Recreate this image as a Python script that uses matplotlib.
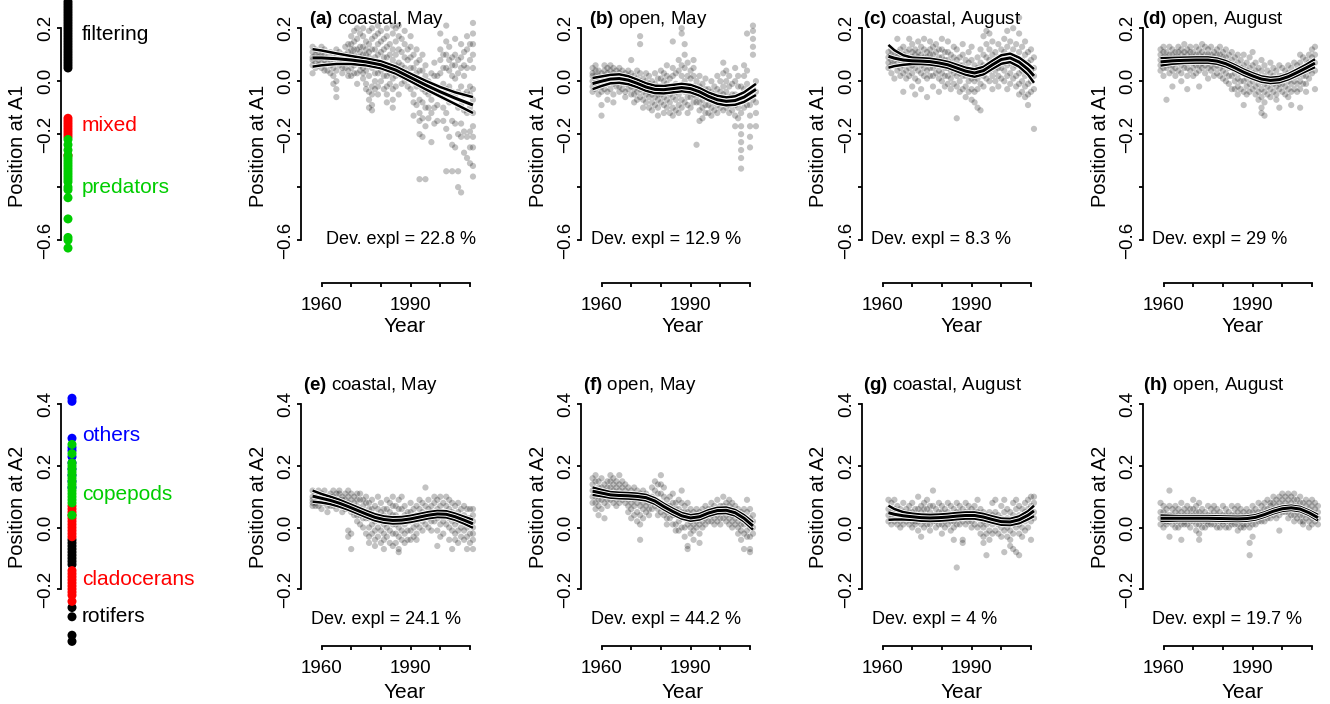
import numpy as np
import matplotlib.pyplot as plt
import matplotlib.patheffects as pe

plt.rcParams['font.family'] = ['Liberation Sans', 'DejaVu Sans']
plt.rcParams['mathtext.fontset'] = 'custom'
plt.rcParams['mathtext.bf'] = 'Liberation Sans:bold'
plt.rcParams['mathtext.rm'] = 'Liberation Sans'

# ---------------- data ----------------
# left strips: group positions on each axis
a1_filtering = [0.05, 0.06, 0.07, 0.08, 0.09, 0.10, 0.11, 0.12, 0.13, 0.14, 0.15, 0.16, 0.17,
                0.18, 0.19, 0.20, 0.21, 0.22, 0.23, 0.24, 0.25, 0.26, 0.27, 0.28, 0.29, 0.30]
a1_mixed = [-0.14, -0.15, -0.16, -0.17, -0.18, -0.19, -0.20, -0.21, -0.28]
a1_predators = [-0.22, -0.24, -0.26, -0.28, -0.29, -0.30, -0.31, -0.32, -0.33, -0.34, -0.35,
                -0.36, -0.37, -0.38, -0.40, -0.41, -0.44, -0.52, -0.59, -0.60, -0.63]
a2_others = [0.42, 0.41, 0.29, 0.26, 0.25, 0.23, 0.21, 0.19, 0.17, 0.15, 0.13]
a2_copepods = [0.27, 0.24, 0.21, 0.20, 0.19, 0.18, 0.17, 0.16, 0.15, 0.14, 0.13, 0.12, 0.11,
               0.10, 0.09, 0.08, 0.04]
a2_cladocerans = [0.07, 0.06, 0.05, 0.04, 0.03, 0.02, 0.01, 0.0, -0.01, -0.02, -0.03, -0.14,
                  -0.15, -0.16, -0.17, -0.18, -0.19, -0.20, -0.21, -0.22, -0.24]
a2_rotifers = [-0.04, -0.05, -0.06, -0.07, -0.08, -0.09, -0.10, -0.11, -0.12, -0.26, -0.29,
               -0.35, -0.37]

# station scores, one row per year: [year, values...]
pts_a = [
    [1957, .13, .11, .09, .08, .06, .03], [1958, .12, .10, .09, .07, .05], [1959, .11, .09, .08, .06],
    [1960, .13, .10, .09, .07, .05], [1961, .12, .10, .08, .06, .04], [1962, .09, .07, .04],
    [1963, .11, .08, .06, .03], [1964, .10, .08, .05, .02, -.01], [1965, .12, .09, .04, .00, -.03, -.06],
    [1966, .11, .08, .06], [1967, .10, .07, .05, .03], [1968, .13, .10, .08, .05],
    [1969, .14, .11, .09, .07, .04, .02], [1970, .17, .14, .12, .10, .07, .05, .02],
    [1971, .19, .15, .12, .10, .08, .06, .03], [1972, .20, .16, .12, .09, .07, .03, -.01],
    [1973, .18, .13, .11, .09, .06, .04], [1974, .20, .17, .13, .10, .08, .05, .03, .01],
    [1975, .15, .12, .10, .07, .04, -.01, -.03], [1976, .19, .14, .11, .09, .06, .02, -.04, -.07, -.10],
    [1977, .20, .16, .12, .08, .05, -.02, -.05, -.09, -.11], [1978, .17, .12, .09, .06, .03, .00, -.03],
    [1979, .21, .18, .14, .10, .07, .03, -.02, -.05], [1980, .19, .15, .11, .07, .04, .00],
    [1981, .16, .12, .09, .05, .02, -.03], [1982, .20, .17, .13, .09, .06, .02, -.02, -.05, -.08],
    [1983, .14, .10, .06, .03, -.01], [1984, .21, .18, .12, .08, .04, .01, -.03, -.07, -.10],
    [1985, .20, .15, .10, .06, .02, -.02], [1986, .21, .17, .12, .07, .03, -.05],
    [1987, .16, .11, .06, .02, -.01], [1988, .19, .14, .09, .05, .00],
    [1989, .12, .08, .03, -.02], [1990, .17, .13, .09, .05, .01, -.03],
    [1991, .10, .05, .00, -.05, -.08, -.13], [1992, .12, .07, .03, -.02, -.09],
    [1993, .08, .04, -.01, -.07, -.12, -.15, -.20, -.37], [1994, .10, .04, -.03, -.08, -.14, -.21],
    [1995, .06, .02, -.04, -.10, -.17, -.37], [1996, .00, -.05, -.10, -.14],
    [1997, .03, -.02, -.07, -.12, -.23], [1998, .07, .02, -.03, -.10, -.16],
    [1999, .02, -.04, -.09, -.15], [2000, .18, .12, .08, .03, -.05],
    [2001, .10, .05, -.01, -.06, -.10, -.15], [2002, .21, .15, .10, .05, -.03, -.12, -.18, -.34],
    [2003, .13, .08, .04, -.02, -.08, -.21], [2004, .09, .06, .02, -.04, -.15, -.24, -.34],
    [2005, .16, .10, .06, .01, -.06, -.16, -.25], [2006, .08, .03, -.04, -.10, -.20, -.34, -.40],
    [2007, .14, .09, .05, -.02, -.09, -.16, -.21, -.42], [2008, .11, .06, .02, -.05, -.11, -.19, -.27],
    [2009, .17, .12, .05, -.04, -.12, -.21, -.29], [2010, .14, .08, -.02, -.05, -.10, -.19, -.25, -.31],
    [2011, .22, .18, .14, .10, .05, -.03, -.07, -.12, -.17, -.21, -.25, -.32, -.36],
]
pts_b = [
    [1957, .05, .03, .02, .00, -.02, -.04], [1958, .06, .04, .02, .01, -.01, -.03],
    [1959, .04, .02, .00, -.02, -.05], [1960, .03, .01, -.02, -.04, -.09, -.13],
    [1961, .06, .04, .02, .00, -.03], [1962, .05, .03, .01, -.01, -.04, -.07],
    [1963, .06, .04, .02, .00, -.03], [1964, .05, .03, .02, -.01, -.05, -.08],
    [1965, .04, .02, .00, -.02], [1966, .05, .03, .01, -.02, -.04], [1967, .04, .02, .00, -.03],
    [1968, .03, .01, -.01, -.04, -.06], [1969, .04, .02, -.01, -.03], [1970, .08, .03, .00, -.02, -.05],
    [1971, .02, .00, -.03, -.05, -.08], [1972, .04, .01, -.02, -.04, -.07],
    [1973, .17, .14, .03, .00, -.03, -.06], [1974, .01, -.02, -.04, -.07, -.10],
    [1975, .03, .00, -.03, -.05, -.08], [1976, .02, -.01, -.04, -.06, -.10],
    [1977, .00, -.03, -.05, -.08, -.11], [1978, .03, -.01, -.04, -.06, -.09],
    [1979, .01, -.02, -.05, -.07, -.10, -.13], [1980, .04, .01, -.02, -.05, -.08],
    [1981, .03, .00, -.03, -.06, -.09, -.12], [1982, .06, .02, -.01, -.04, -.07, -.10],
    [1983, .01, -.02, -.05, -.08, -.12], [1984, .15, .05, .02, -.03, -.06, -.10, -.13],
    [1985, .03, -.01, -.04, -.07, -.11], [1986, .08, .04, -.02, -.05, -.09, -.12],
    [1987, .20, .18, .06, .02, -.03, -.07, -.10], [1988, .14, .10, .05, .00, -.04, -.08],
    [1989, .07, .02, -.02, -.06, -.09, -.12], [1990, .04, .01, -.03, -.06, -.10],
    [1991, .08, .05, .02, -.02, -.05, -.08], [1992, .00, -.03, -.06, -.08, -.24],
    [1993, .02, -.02, -.05, -.08, -.11, -.15], [1994, -.01, -.04, -.07, -.10, -.14],
    [1995, .01, -.03, -.06, -.09, -.12], [1996, -.03, -.06, -.09, -.12],
    [1997, .00, -.04, -.07, -.10, -.13], [1998, -.02, -.05, -.08, -.11],
    [1999, .02, -.03, -.06, -.09, -.12], [2000, .00, -.04, -.07, -.10],
    [2001, .07, .03, -.02, -.05, -.08, -.11], [2002, .04, .00, -.04, -.07, -.10],
    [2003, .02, -.02, -.06, -.09, -.12], [2004, -.01, -.05, -.08, -.11],
    [2005, .05, .00, -.05, -.09, -.13, -.17], [2006, .02, -.02, -.06, -.10, -.14],
    [2007, -.02, -.06, -.12, -.17, -.20, -.23, -.26, -.29, -.33], [2008, .06, .02, -.03, -.07, -.10],
    [2009, .18, .04, -.01, -.05, -.09], [2010, -.05, -.09, -.13, -.17, -.21, -.25],
    [2011, .21, .19, .16, .13, .10, -.03, -.07], [2012, .00, -.04, -.08, -.12, -.17],
]
pts_c = [
    [1962, .11, .09, .07, .05], [1963, .12, .10, .08, .06, .03], [1964, .10, .08, .06, .01],
    [1965, .16, .11, .09, .07, .04], [1966, .12, .10, .08, .05, .02],
    [1967, .13, .10, .08, .06, .03, -.04], [1968, .11, .09, .07, .04, .01],
    [1969, .16, .12, .09, .07, .05, .02], [1970, .14, .11, .09, .06, .03, -.02],
    [1971, .12, .10, .08, .05, .01, -.05], [1972, .15, .11, .09, .07, .04, .00],
    [1973, .13, .10, .08, .06, .03, -.03], [1974, .16, .12, .09, .07, .05, .02],
    [1975, .11, .09, .07, .04, .01, -.06], [1976, .15, .12, .10, .07, .05, .02],
    [1977, .13, .10, .08, .05, .02, -.02], [1978, .14, .11, .08, .06, .03],
    [1979, .12, .09, .07, .04, .01, -.04], [1980, .16, .12, .09, .06, .03, .00],
    [1981, .11, .08, .05, .02, -.02], [1982, .15, .11, .08, .05, .02, -.01],
    [1983, .10, .07, .04, .01, -.03], [1984, .13, .09, .06, .03, -.01],
    [1985, .12, .08, .05, .02, -.02, -.14], [1986, .09, .06, .03, .00, -.04],
    [1987, .14, .10, .06, .02, -.03], [1988, .08, .05, .02, -.02, -.06],
    [1989, .11, .07, .03, .00, -.04], [1990, .13, .08, .04, .01, -.03, -.07],
    [1991, .06, .03, .00, -.04, -.08], [1992, .09, .05, .01, -.03, -.10],
    [1993, .12, .07, .03, -.01, -.11], [1994, .17, .10, .06, .02, -.02],
    [1995, .19, .14, .09, .05, .01], [1996, .18, .12, .08, .04, .00],
    [1997, .15, .10, .06, .02, -.03], [1998, .11, .07, .04, .00],
    [1999, .14, .09, .05, .02, -.02], [2000, .12, .08, .05, .01],
    [2001, .16, .11, .07, .04, .00], [2002, .19, .13, .09, .06, .02, -.03],
    [2003, .15, .10, .07, .03, -.01], [2004, .20, .12, .08, .05, .01],
    [2005, .14, .09, .06, .02, -.02], [2006, .24, .18, .11, .07, .03, -.01, -.05],
    [2007, .13, .08, .04, .00, -.04], [2008, .15, .10, .06, .02, -.02, -.06],
    [2009, .11, .07, .03, -.01, -.05, -.09], [2010, .12, .08, .04, .00, -.04],
    [2011, .09, .05, .02, -.03, -.18],
]
pts_d = [
    [1959, .12, .10, .08, .06, .04], [1960, .13, .11, .09, .07, .05, .02],
    [1961, .11, .09, .07, .05, -.07], [1962, .13, .10, .08, .06, .03],
    [1963, .12, .10, .08, .06, .04, -.02], [1964, .11, .09, .07, .05, .02],
    [1965, .13, .11, .09, .07, .04], [1966, .12, .10, .08, .06, .03, .00],
    [1967, .14, .11, .09, .07, .05], [1968, .12, .10, .08, .05, .02, -.03],
    [1969, .13, .11, .09, .07, .04], [1970, .11, .09, .07, .05, .02],
    [1971, .13, .10, .08, .06, .03], [1972, .12, .10, .08, .06, .04, -.02],
    [1973, .14, .11, .09, .07, .05], [1974, .13, .10, .08, .06, .03],
    [1975, .12, .10, .08, .05, .01], [1976, .13, .10, .08, .06, .04],
    [1977, .11, .09, .07, .05, .02], [1978, .12, .10, .08, .06, .03],
    [1979, .13, .10, .07, .05, .02], [1980, .11, .09, .06, .04, .01],
    [1981, .12, .09, .06, .03, .00], [1982, .10, .07, .05, .02, -.01],
    [1983, .11, .08, .05, .02, -.03], [1984, .09, .06, .03, .00, -.03],
    [1985, .10, .07, .04, .01, -.02, -.05], [1986, .08, .05, .03, .00, -.03],
    [1987, .10, .06, .03, .00, -.04, -.09], [1988, .07, .04, .01, -.02, -.05],
    [1989, .09, .05, .02, -.01, -.04], [1990, .11, .06, .03, .00, -.03],
    [1991, .07, .04, .01, -.02, -.05], [1992, .05, .02, -.01, -.04, -.07],
    [1993, .08, .04, .01, -.03, -.06, -.10, -.12], [1994, .06, .02, -.01, -.04, -.08, -.13],
    [1995, .04, .01, -.02, -.05], [1996, .07, .03, .00, -.03, -.06],
    [1997, .05, .02, -.01, -.04], [1998, .04, .01, -.02, -.05, -.07],
    [1999, .06, .02, -.01, -.03, -.10], [2000, .05, .02, -.01, -.04],
    [2001, .04, .01, -.02, -.05], [2002, .06, .03, .00, -.03, -.06],
    [2003, .05, .02, -.01, -.04, -.09], [2004, .07, .03, .00, -.03],
    [2005, .06, .02, -.01, -.04], [2006, .10, .07, .03, .00, -.03, -.10],
    [2007, .09, .05, .02, -.01], [2008, .08, .05, .02, -.01, -.04],
    [2009, .10, .07, .04, .01], [2010, .12, .09, .06, .03],
    [2011, .13, .10, .07, .04, -.03],
]
pts_e = [
    [1957, .12, .10, .09, .08, .07], [1958, .11, .10, .08, .07], [1959, .12, .10, .09, .07],
    [1960, .11, .09, .08, .06], [1961, .12, .10, .09, .08], [1962, .10, .09, .07, .05],
    [1963, .11, .10, .08, .07], [1964, .12, .10, .09, .07], [1965, .11, .09, .08, .06],
    [1966, .12, .11, .09, .07], [1967, .10, .09, .07, .05], [1968, .11, .09, .07, .06],
    [1969, .12, .10, .08, .06, -.01, -.03], [1970, .11, .09, .07, .05, -.02, -.07],
    [1971, .10, .08, .06, .04], [1972, .11, .09, .07, .04, .02], [1973, .11, .09, .06, .04, .01],
    [1974, .09, .07, .05, .03, .00], [1975, .10, .08, .05, .03, -.02],
    [1976, .08, .06, .03, .00, -.03, -.05], [1977, .09, .06, .04, .01, -.02],
    [1978, .07, .04, .02, -.01, -.04, -.06], [1979, .10, .06, .03, .00, -.03],
    [1980, .08, .05, .02, -.01, -.05], [1981, .06, .04, .01, -.02, -.04, -.07],
    [1982, .09, .06, .03, .00, -.03], [1983, .08, .05, .02, -.01, -.05],
    [1984, .10, .07, .04, .01, -.02, -.06], [1985, .07, .04, .01, -.02, -.05],
    [1986, .09, .06, .03, .00, -.03, -.07, -.08], [1987, .10, .06, .02, -.01, -.04],
    [1988, .07, .04, .01, -.02, -.05], [1989, .05, .02, -.01, -.04],
    [1990, .08, .05, .02, -.01, -.04], [1991, .06, .03, .00, -.03],
    [1992, .07, .04, .01, -.02, -.04], [1993, .09, .06, .03, .00], [1994, .08, .05, .02, -.01],
    [1995, .13, .07, .04, .01], [1996, .09, .06, .03, .00], [1997, .07, .05, .02, -.01],
    [1998, .10, .08, .05, .02], [1999, .09, .06, .03, -.01, -.06],
    [2000, .10, .07, .04, .01, -.03], [2001, .08, .05, .02, -.02], [2002, .10, .07, .04, .01],
    [2003, .09, .06, .03, .00, -.04], [2004, .08, .05, .02, -.01, -.07],
    [2005, .07, .04, .01, -.02, -.04], [2006, .08, .05, .02, -.01, -.05],
    [2007, .06, .03, .00, -.03], [2008, .07, .04, .02, -.01, -.04],
    [2009, .06, .03, .00, -.03, -.07], [2010, .06, .03, .01, -.02, -.05],
    [2011, .06, .04, .02, .00, -.02, -.04, -.07],
]
pts_f = [
    [1957, .16, .14, .12, .10, .08], [1958, .17, .15, .12, .10, .08, .06],
    [1959, .15, .13, .11, .09, .07, .04], [1960, .16, .13, .11, .09, .06],
    [1961, .14, .12, .10, .08, .03], [1962, .15, .13, .11, .09, .07],
    [1963, .17, .15, .13, .11, .09], [1964, .16, .14, .12, .10, .08],
    [1965, .15, .13, .11, .09, .07], [1966, .17, .14, .12, .10, .08],
    [1967, .15, .13, .11, .09], [1968, .14, .12, .10, .08], [1969, .13, .11, .09, .07, .05],
    [1970, .12, .10, .08, .06, .03], [1971, .13, .11, .09, .07, .04],
    [1972, .12, .10, .08, .05, .02], [1973, .11, .09, .07, .04, .01, -.04],
    [1974, .12, .10, .08, .06, .03], [1975, .11, .09, .07, .05], [1976, .10, .08, .06, .04],
    [1977, .13, .10, .08, .06], [1978, .15, .12, .09, .07], [1979, .14, .11, .08, .06, .04],
    [1980, .17, .14, .11, .08, .05], [1981, .13, .10, .07, .04], [1982, .09, .07, .05, .03, .01],
    [1983, .10, .07, .05, .03], [1984, .11, .08, .06, .04, .01], [1985, .08, .06, .04, .01, -.01],
    [1986, .09, .06, .04, .02, -.01], [1987, .12, .08, .05, .03, .00],
    [1988, .07, .05, .03, .00, -.03], [1989, .08, .05, .03, .01, -.06, -.07],
    [1990, .06, .04, .02, .00, -.02], [1991, .05, .03, .01, -.01, -.04],
    [1992, .06, .04, .02, .00], [1993, .05, .03, .01, -.02, -.05], [1994, .06, .04, .02, .00],
    [1995, .07, .05, .03, .01], [1996, .06, .04, .02], [1997, .08, .06, .04, .02],
    [1998, .07, .05, .03, .01], [1999, .09, .06, .04, .02], [2000, .07, .05, .03, .01],
    [2001, .10, .07, .05, .03], [2002, .08, .06, .04, .02], [2003, .09, .07, .05, .03, .01],
    [2004, .08, .06, .04, .02, .00], [2005, .07, .05, .03, .01],
    [2006, .06, .04, .02, .00, -.02], [2007, .05, .03, .01, -.01, -.04],
    [2008, .06, .03, .01, -.02, -.07], [2009, .09, .05, .02, -.01, -.03],
    [2010, .06, .03, .00, -.03, -.07, -.08], [2011, .04, .02, .00, -.02],
]
pts_g = [
    [1962, .09, .06, .04, .02], [1963, .08, .05, .03, .01], [1964, .09, .06, .04, .02],
    [1965, .07, .05, .03, .01], [1966, .06, .04, .02, .00], [1967, .08, .05, .03, .01],
    [1968, .06, .04, .02], [1969, .07, .05, .03, .01], [1970, .08, .05, .03, .02, .00],
    [1971, .06, .04, .02, .01], [1972, .10, .06, .04, .02, -.01], [1973, .07, .05, .03, .01, -.03],
    [1974, .08, .06, .04, .02, .00], [1975, .09, .06, .03, .01], [1976, .07, .05, .03, .01, -.01],
    [1977, .12, .07, .04, .02], [1978, .06, .04, .02, .00], [1979, .08, .05, .03, .01],
    [1980, .07, .05, .03, .01, -.02], [1981, .06, .04, .02, .00], [1982, .08, .05, .03, .01],
    [1983, .07, .04, .02, -.01], [1984, .06, .04, .02, .00, -.04], [1985, .08, .05, .03, .01, -.13],
    [1986, .07, .05, .03, .01], [1987, .06, .04, .02, -.04, -.05], [1988, .08, .05, .03, .01],
    [1989, .07, .05, .03, .02], [1990, .06, .04, .02, .00], [1991, .07, .05, .03, .01],
    [1992, .09, .05, .03, .00], [1993, .06, .03, .01, -.02], [1994, .05, .02, .00, -.03, -.05],
    [1995, .04, .01, -.02, -.09], [1996, .05, .02, -.01, -.04], [1997, .08, .04, .01, -.02],
    [1998, .09, .05, .02, -.01], [1999, .04, .01, -.02], [2000, .07, .03, .00, -.03],
    [2001, .09, .05, .02, -.01, -.08], [2002, .06, .03, .00, -.03],
    [2003, .05, .02, -.01, -.04, -.06], [2004, .08, .04, .01, -.02, -.07],
    [2005, .09, .06, .03, .00, -.08], [2006, .07, .04, .01, -.02, -.09],
    [2007, .06, .03, .00, -.03], [2008, .08, .05, .02, -.01], [2009, .09, .06, .03, .00],
    [2010, .10, .07, .04, .02, -.04], [2011, .10, .08, .05, .03],
]
pts_h = [
    [1959, .08, .05, .03, .01], [1960, .07, .05, .03, .02, .00], [1961, .06, .04, .02, .01],
    [1962, .12, .07, .04, .02, -.03], [1963, .06, .04, .03, .01], [1964, .07, .05, .03, .02, .00],
    [1965, .06, .04, .02, .00], [1966, .08, .05, .03, .01, -.04], [1967, .06, .04, .02, .01],
    [1968, .07, .05, .03, .01], [1969, .06, .04, .02, .00], [1970, .09, .06, .04, .02],
    [1971, .07, .05, .03, .01, -.01], [1972, .08, .05, .03, .01, -.02, -.04],
    [1973, .06, .04, .02, .00], [1974, .05, .03, .02, .00], [1975, .07, .04, .02, .01],
    [1976, .06, .04, .03, .01], [1977, .07, .05, .03, .01], [1978, .06, .04, .02, .00],
    [1979, .05, .03, .02, .00], [1980, .07, .04, .02, .01], [1981, .06, .04, .02, .00],
    [1982, .05, .03, .02, .00], [1983, .07, .04, .02, .01], [1984, .06, .04, .03, .01],
    [1985, .07, .05, .03, .01, -.01], [1986, .06, .04, .02, .00], [1987, .05, .03, .01, .00],
    [1988, .06, .04, .03, .01], [1989, .05, .03, .02, .00, -.05, -.09],
    [1990, .07, .05, .03, .01, -.03], [1991, .06, .04, .03, .01], [1992, .08, .05, .03, .02],
    [1993, .07, .05, .04, .02], [1994, .08, .06, .04, .02], [1995, .09, .06, .04, .03],
    [1996, .08, .07, .05, .03], [1997, .10, .08, .06, .04], [1998, .09, .07, .05, .03],
    [1999, .10, .08, .06, .04, -.01], [2000, .11, .09, .07, .05], [2001, .10, .08, .06, .05],
    [2002, .11, .09, .07, .05, .03], [2003, .10, .08, .06, .04], [2004, .11, .09, .07, .04, .02],
    [2005, .09, .07, .05, .03], [2006, .10, .08, .06, .04, .02], [2007, .08, .06, .04, .02, .01],
    [2008, .09, .07, .05, .03], [2009, .08, .06, .04, .02, .00], [2010, .09, .07, .05, .03, .01],
    [2011, .08, .06, .04, .02], [2012, .07, .05, .03, .01],
]

# smooth fits: years, fitted value, half width of confidence band
fy_a = [1957, 1960, 1965, 1970, 1975, 1980, 1985, 1990, 1995, 2000, 2005, 2011]
fm_a = [0.088, 0.088, 0.085, 0.080, 0.073, 0.062, 0.042, 0.014, -0.014, -0.040, -0.064, -0.090]
fh_a = [0.033, 0.028, 0.020, 0.015, 0.013, 0.013, 0.013, 0.014, 0.016, 0.018, 0.022, 0.030]

fy_b = [1957, 1960, 1963, 1966, 1969, 1972, 1975, 1978, 1981, 1984, 1987, 1990, 1993, 1996,
        1999, 2002, 2005, 2008, 2012]
fm_b = [-0.009, 0.000, 0.008, 0.010, 0.004, -0.008, -0.022, -0.031, -0.032, -0.028, -0.024,
        -0.028, -0.040, -0.057, -0.070, -0.076, -0.073, -0.060, -0.031]
fh_b = [0.021, 0.018, 0.016, 0.016, 0.015, 0.014, 0.014, 0.014, 0.014, 0.014, 0.014, 0.014,
        0.014, 0.014, 0.015, 0.015, 0.016, 0.018, 0.021]

fy_c = [1962, 1964, 1967, 1970, 1973, 1976, 1979, 1982, 1985, 1988, 1991, 1994, 1997, 2000,
        2003, 2006, 2009, 2011]
fm_c = [0.094, 0.087, 0.080, 0.077, 0.076, 0.074, 0.069, 0.062, 0.050, 0.038, 0.031, 0.040,
        0.062, 0.082, 0.088, 0.072, 0.045, 0.020]
fh_c = [0.043, 0.030, 0.018, 0.012, 0.011, 0.011, 0.011, 0.011, 0.012, 0.013, 0.014, 0.014,
        0.015, 0.016, 0.016, 0.017, 0.020, 0.026]

fy_d = [1959, 1963, 1967, 1971, 1975, 1978, 1981, 1984, 1987, 1990, 1993, 1996, 1999, 2002,
        2005, 2008, 2011]
fm_d = [0.073, 0.077, 0.079, 0.080, 0.080, 0.076, 0.066, 0.051, 0.034, 0.020, 0.008, 0.003,
        0.006, 0.017, 0.033, 0.050, 0.068]
fh_d = [0.014, 0.011, 0.010, 0.010, 0.010, 0.010, 0.010, 0.010, 0.010, 0.010, 0.010, 0.010,
        0.010, 0.010, 0.011, 0.012, 0.015]

fy_e = [1957, 1960, 1963, 1966, 1969, 1972, 1975, 1978, 1981, 1984, 1987, 1990, 1993, 1996,
        1999, 2002, 2005, 2008, 2011]
fm_e = [0.102, 0.095, 0.088, 0.079, 0.068, 0.056, 0.044, 0.033, 0.026, 0.023, 0.024, 0.028,
        0.034, 0.040, 0.044, 0.043, 0.035, 0.024, 0.012]
fh_e = [0.018, 0.014, 0.012, 0.011, 0.010, 0.010, 0.010, 0.010, 0.010, 0.010, 0.010, 0.010,
        0.010, 0.010, 0.010, 0.010, 0.010, 0.011, 0.013]

fy_f = [1957, 1960, 1963, 1966, 1969, 1972, 1975, 1978, 1981, 1984, 1987, 1990, 1993, 1996,
        1999, 2002, 2005, 2008, 2011]
fm_f = [0.118, 0.112, 0.106, 0.104, 0.103, 0.101, 0.097, 0.086, 0.068, 0.052, 0.038, 0.031,
        0.035, 0.047, 0.055, 0.056, 0.048, 0.030, 0.005]
fh_f = [0.012, 0.010, 0.009, 0.009, 0.009, 0.009, 0.009, 0.009, 0.009, 0.009, 0.009, 0.009,
        0.009, 0.009, 0.009, 0.009, 0.009, 0.010, 0.012]

fy_g = [1962, 1964, 1967, 1970, 1973, 1976, 1979, 1982, 1985, 1988, 1991, 1994, 1997, 2000,
        2003, 2006, 2009, 2011]
fm_g = [0.048, 0.043, 0.038, 0.035, 0.032, 0.031, 0.032, 0.034, 0.037, 0.039, 0.039, 0.034,
        0.026, 0.019, 0.018, 0.025, 0.040, 0.054]
fh_g = [0.023, 0.017, 0.012, 0.010, 0.010, 0.010, 0.010, 0.010, 0.010, 0.010, 0.010, 0.010,
        0.010, 0.010, 0.010, 0.011, 0.013, 0.017]

fy_h = [1959, 1965, 1970, 1975, 1980, 1985, 1988, 1991, 1994, 1997, 2000, 2003, 2006, 2009, 2012]
fm_h = [0.030, 0.030, 0.030, 0.030, 0.029, 0.028, 0.029, 0.033, 0.042, 0.053, 0.061, 0.064,
        0.060, 0.048, 0.032]
fh_h = [0.009, 0.007, 0.007, 0.007, 0.007, 0.007, 0.007, 0.007, 0.007, 0.007, 0.007, 0.007,
        0.007, 0.007, 0.009]

letters = ["a", "b", "c", "d", "e", "f", "g", "h"]
titles = ["coastal, May", "open, May", "coastal, August", "open, August"] * 2
dev_expl = ["22.8", "12.9", "8.3", "29", "24.1", "44.2", "4", "19.7"]

# ---------------- layout (pixels) ----------------
W, H = 1330, 704
fig = plt.figure(figsize=(W / 100, H / 100), dpi=100)
FS = 13        # dev. expl
FS_TICK = 13.5
FS_TITLE = 13.5
FS_YLAB = 14.4
FS_XLAB = 15
FS_STRIP = 15
GREEN = "#00CD00"


def box(x0, top, x1, bot):
    return [x0 / W, 1 - bot / H, (x1 - x0) / W, (bot - top) / H]


def ftext(x, y, s, size=FS, **kw):
    fig.text(x / W, 1 - y / H, s, fontsize=size, **kw)


def flat(rows):
    xs, ys = [], []
    for r in rows:
        xs += [r[0]] * (len(r) - 1)
        ys += r[1:]
    return xs, ys


rows = [
    dict(top=15, bot=283, ylim=(-0.762, 0.25), bounds=(-0.6, 0.2),
         ticks=[-0.6, -0.4, -0.2, 0.0, 0.2], labels=["\u22120.6", "", "\u22120.2", "0.0", "0.2"],
         ylab="Position at A1", ylab_y=146, title_y=20, dev_y=240, year_y=327),
    dict(top=389, bot=646, ylim=(-0.385, 0.45), bounds=(-0.2, 0.4),
         ticks=[-0.2, 0.0, 0.2, 0.4], labels=["\u22120.2", "0.0", "0.2", "0.4"],
         ylab="Position at A2", ylab_y=507, title_y=385, dev_y=620, year_y=692),
]
axis_x = [301, 581, 862, 1143]
title_x = [[309, 589, 863, 1142], [303, 583, 863, 1143]]
dev_x = [[326, 591, 871, 1152], [311, 591, 872, 1152]]
year_x = [405, 683, 962, 1243]
PW = 180
XL = (1960 - 20.5 / 2.97, 1960 - 20.5 / 2.97 + PW / 2.97)


def style_y(ax, r):
    ax.spines[['top', 'right']].set_visible(False)
    ax.spines['left'].set_bounds(*r['bounds'])
    ax.spines['left'].set_linewidth(1.3)
    ax.set_ylim(*r['ylim'])
    ax.set_yticks(r['ticks'])
    ax.set_yticklabels(r['labels'], rotation=90, va='center', fontsize=FS_TICK)
    ax.tick_params(axis='y', length=3, width=1.3, pad=2)


# ---------------- left strips ----------------
strips = [
    [(a1_filtering, "black", "filtering", 0.177), (a1_mixed, "red", "mixed", -0.166),
     (a1_predators, GREEN, "predators", -0.40)],
    [(a2_rotifers, "black", "rotifers", -0.29), (a2_others, "blue", "others", 0.30),
     (a2_cladocerans, "red", "cladocerans", -0.169), (a2_copepods, GREEN, "copepods", 0.107)],
]
strip_dot_x = [68, 72]
for i, r in enumerate(rows):
    ax = fig.add_axes(box(61, r['top'], 81, r['bot']))
    style_y(ax, r)
    ax.spines['bottom'].set_visible(False)
    ax.set_xticks([])
    ax.set_xlim(61, 81)
    ax.patch.set_alpha(0)
    for vals, col, name, ly in strips[i]:
        ax.scatter([strip_dot_x[i]] * len(vals), vals, s=42, color=col, edgecolors='none',
                   clip_on=False, zorder=3)
        ax.text(82, ly, name, color=col, fontsize=FS_STRIP, va='center', ha='left',
                clip_on=False)
    ftext(18, r['ylab_y'], r['ylab'], size=FS_YLAB, rotation=90, ha='center', va='center')

# ---------------- panels ----------------
pts = [pts_a, pts_b, pts_c, pts_d, pts_e, pts_f, pts_g, pts_h]
fits = [(fy_a, fm_a, fh_a), (fy_b, fm_b, fh_b), (fy_c, fm_c, fh_c), (fy_d, fm_d, fh_d),
        (fy_e, fm_e, fh_e), (fy_f, fm_f, fh_f), (fy_g, fm_g, fh_g), (fy_h, fm_h, fh_h)]

for k in range(8):
    i, j = divmod(k, 4)
    r = rows[i]
    x0 = axis_x[j]
    ax = fig.add_axes(box(x0, r['top'], x0 + PW, r['bot']))
    ax.patch.set_alpha(0)
    style_y(ax, r)
    ax.set_xlim(*XL)
    ax.spines['bottom'].set_bounds(1960, 2010)
    ax.spines['bottom'].set_linewidth(1.3)
    ax.set_xticks([1960, 1970, 1980, 1990, 2000, 2010])
    ax.set_xticklabels(["1960", "", "", "1990", "", ""], fontsize=FS_TICK)
    ax.tick_params(axis='x', length=3, width=1.3, pad=7)

    xs, ys = flat(pts[k])
    ax.scatter(xs, ys, s=20, color='black', alpha=0.24, edgecolors='none', zorder=1)

    fy, fm, fh = fits[k]
    fy, fm, fh = np.array(fy), np.array(fm), np.array(fh)
    for yy, lw in [(fm + fh, 1.8), (fm - fh, 1.8), (fm, 2.2)]:
        ax.plot(fy, yy, color='black', lw=lw, zorder=3, solid_capstyle='butt',
                path_effects=[pe.Stroke(linewidth=lw + 1.3, foreground='white'), pe.Normal()])

    ftext(x0 - 43, r['ylab_y'], r['ylab'], size=FS_YLAB, rotation=90, ha='center', va='center')
    ftext(year_x[j], r['year_y'], "Year", size=FS_XLAB, ha='center', va='center')
    ftext(title_x[i][j], r['title_y'], r"$\mathbf{(" + letters[k] + ")}$ " + titles[k],
          size=FS_TITLE, ha='left', va='center')
    ftext(dev_x[i][j], r['dev_y'], "Dev. expl = " + dev_expl[k] + " %", ha='left', va='center')

fig.savefig("out.png", dpi=100)
